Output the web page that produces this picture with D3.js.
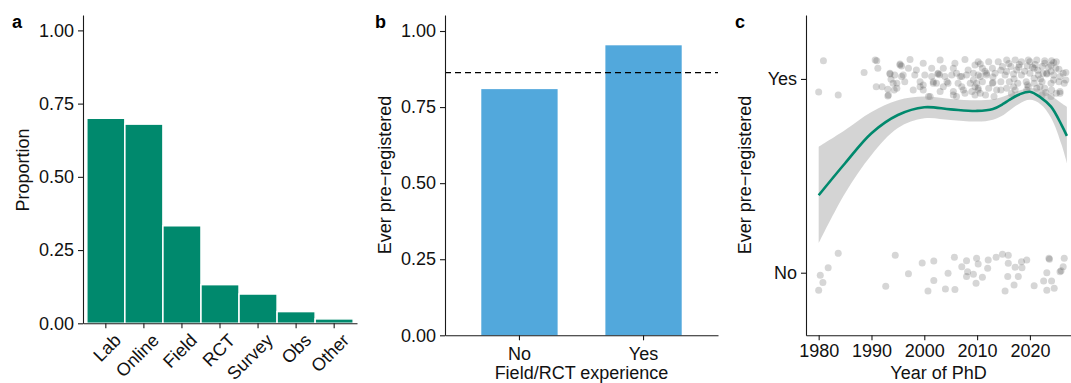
<!DOCTYPE html>
<html><head><meta charset="utf-8">
<script src="https://cdn.jsdelivr.net/npm/d3@7"></script>
<style>
body{margin:0;background:#fff}
text{font-family:"Liberation Sans",Arial,Helvetica,sans-serif}
</style>
</head><body>
<svg id="chart" width="1071" height="383"></svg>
<script>
// ---------- data ----------
const methodCats = ["Lab","Online","Field","RCT","Survey","Obs","Other"];
const methodProps = [0.70,0.68,0.333,0.132,0.10,0.04,0.015];
const expCats = ["No","Yes"];
const expProps = [0.809,0.953];
const overallRate = 0.863;
const propTicks = [0,0.25,0.5,0.75,1];
const yearTicks = [1980,1990,2000,2010,2020];
const ynTicks = [0,1];
const ynLabels = ["No","Yes"];

const smoothYears = [1980,1985,1990,1995,2000,2005,2010,2013,2015,2016,2018,2020,2022,2024,2026,2027];
const smoothFit   = [0.40,0.565,0.72,0.814,0.854,0.843,0.835,0.845,0.872,0.89,0.92,0.934,0.905,0.857,0.762,0.706];
const smoothLower = [0.152,0.41,0.608,0.747,0.797,0.788,0.78,0.79,0.814,0.835,0.872,0.892,0.87,0.80,0.66,0.565];
const smoothUpper = [0.65,0.737,0.83,0.89,0.909,0.897,0.89,0.895,0.909,0.92,0.94,0.952,0.945,0.915,0.875,0.857];

// [year, vertical jitter] for respondents who pre-registered (Yes)
const yesPoints = [
[1980.9,0.094],[1980.0,-0.067],[1983.7,-0.083],[1988.6,0.033],[1990.7,0.098],[1991.2,0.055],[1993.5,0.026],[1993.7,-0.002],
[1990.9,-0.04],[1992.0,-0.04],[1993.1,-0.053],[1993.1,-0.088],[1994.1,-0.022],[1994.3,-0.057],
[1997.3,0.10],[2003.0,0.098],[2007.7,0.10],[2010.2,0.089],[1999.8,0.081],[2005.8,0.081],[1995.4,0.077],[1995.7,0.067],
[1997.0,0.055],[1998.5,0.046],[2001.4,0.055],[2003.6,0.055],[2005.5,0.055],[2008.3,0.046],[2009.6,0.072],[1993.5,0.03],
[1994.4,0.02],[1996.0,0.02],[1998.2,0.02],[2000.1,0.02],[2001.4,0.012],[2002.6,0.026],[2002.9,0.022],[2003.9,0.012],
[2005.2,0.02],[2006.1,0.03],[2007.1,0.012],[2008.0,0.02],[2009.3,0.03],[2010.6,0.012],[1994.8,-0.022],[1996.3,-0.014],
[1999.2,-0.014],[1999.8,-0.031],[2001.7,-0.014],[2002.3,-0.022],[2004.5,-0.022],[2006.4,-0.022],[2008.7,-0.022],[2009.9,-0.022],
[2003.6,-0.04],[2007.1,-0.04],[2009.6,-0.04],[1999.8,-0.057],[2003.0,-0.065],[2005.5,-0.065],[2007.7,-0.074],[2009.0,-0.065],
[2010.2,-0.048],[2001.1,-0.091],[2006.1,-0.091],[2009.6,-0.083],
[2010.6,0.077],[2012.2,0.089],[2014.0,0.089],[2015.6,0.098],[2017.2,0.098],[2018.4,0.089],[2019.7,0.098],[2021.3,0.098],
[2022.8,0.094],[2024.1,0.094],[2025.0,0.089],[2011.0,0.055],[2012.9,0.055],[2014.8,0.064],[2016.4,0.064],[2017.9,0.06],
[2019.5,0.067],[2020.8,0.055],[2022.3,0.064],[2024.0,0.072],[2024.9,0.055],[2026.8,0.033],[2010.2,0.02],[2011.8,0.02],
[2013.4,0.03],[2015.3,0.02],[2016.9,0.026],[2018.4,0.02],[2020.0,0.03],[2021.6,0.02],[2023.2,0.026],[2024.5,0.02],
[2025.7,0.012],[2011.0,-0.014],[2012.9,-0.022],[2013.0,-0.018],[2014.5,-0.014],[2016.1,-0.014],[2017.7,-0.022],[2019.3,-0.014],
[2020.8,-0.022],[2022.3,-0.014],[2024.0,-0.022],[2025.5,-0.014],[2026.5,-0.022],[2010.2,-0.057],[2012.2,-0.048],[2013.7,-0.057],
[2015.6,-0.048],[2017.2,-0.057],[2019.7,-0.04],[2021.3,-0.048],[2022.8,-0.048],[2024.1,-0.057],[2025.7,-0.065],[2011.6,-0.083],
[2013.2,-0.091],[2022.3,-0.083],[2024.0,-0.091],[2025.0,-0.074],
[1991.0,0.094],[1995.4,0.072],[1995.7,0.012],[2002.6,0.03],[2010.6,-0.074],[2015.6,0.038],[2017.5,0.046],[2020.0,0.089],
[2022.8,0.081],[2023.2,0.03],[2020.8,0.004],[2024.5,-0.005],[2021.9,-0.04],[2014.5,-0.057],[2007.4,-0.057],[2005.5,-0.083],
[2025.7,-0.074],[2026.3,0.03],[2026.8,-0.005],[2019.4,-0.057],[2016.9,-0.04],[2011.8,0.03],[2009.3,-0.005],[2006.8,0.012],
[2004.3,-0.014],[2001.7,-0.022],[1999.2,-0.04],[1997.9,-0.057],[1994.8,-0.048],[1993.2,-0.083],[2000.8,-0.09],
[2016.0,0.08],[2018.0,0.075],[2021.0,0.075],[2023.5,0.06],[2024.5,0.085],[2019.0,0.04],[2021.5,0.045],[2024.0,0.04],
[2022.0,0.0],[2017.0,0.0],[2013.0,0.01],[2019.5,-0.03],[2023.0,-0.07],[2016.5,-0.075],[2011.5,0.04],[2014.5,0.045],
[2025.5,0.05],[2020.5,0.06],[2022.5,0.03]
];
// [year, vertical jitter] for respondents who never pre-registered (No)
const noPoints = [
[1983.7,0.10],[1981.8,0.026],[1980.3,-0.013],[1980.8,-0.05],[1980.0,-0.09],[1994.5,0.09],[1999.6,0.05],[2001.8,0.06],
[1997.0,-0.005],[1992.7,-0.07],[2001.8,-0.04],[2000.7,-0.095],[2004.0,-0.084],[2005.8,-0.086],[2005.7,0.08],[2004.5,-0.003],
[2008.0,0.062],[2007.1,0.031],[2009.9,0.074],[2010.2,0.045],[2008.2,0.005],[2008.0,-0.02],[2009.3,-0.008],[2009.8,-0.055],
[2011.0,-0.024],[2012.1,0.066],[2012.0,0.023],[2013.6,0.08],[2014.8,0.095],[2015.9,0.09],[2015.9,0.049],[2017.2,0.028],
[2018.4,0.057],[2019.4,0.066],[2018.5,0.026],[2015.8,-0.02],[2017.8,-0.02],[2017.0,-0.063],[2015.3,-0.095],[2020.8,-0.067],
[2023.6,0.074],[2023.7,0.07],[2023.2,0.0],[2022.6,-0.043],[2024.1,-0.043],[2023.2,-0.09],[2024.6,-0.08],[2025.7,0.005],
[2025.9,0.01],[2026.3,0.031],[2026.5,0.074]
];

// ---------- drawing ----------
const svg = d3.select("#chart");
const FS = 18;
const txtCol = "#111";
const axCol = "#1a1a1a";

function styleAxis(g){
  g.selectAll(".domain").attr("stroke",axCol).attr("stroke-width",1.1);
  g.selectAll(".tick line").attr("stroke",axCol).attr("stroke-width",1.1);
  g.selectAll(".tick text").attr("fill",txtCol).style("font-size",FS+"px")
    .style("font-family","'Liberation Sans',Arial,sans-serif");
}
function panelLabel(x,t){
  svg.append("text").attr("x",x).attr("y",28).text(t)
    .style("font-size","18px").style("font-weight","bold").attr("fill","#000");
}
function yTitle(x,cy,t){
  svg.append("text").attr("transform",`translate(${x},${cy}) rotate(-90)`)
    .attr("text-anchor","middle").style("font-size",FS+"px").attr("fill",txtCol).text(t);
}

// ----- Panel a -----
{
  const L=83,R=357,T=15,B=323.3;
  const x = d3.scaleBand().domain(methodCats).range([L,R]).paddingInner(0).paddingOuter(0.1);
  const y = d3.scaleLinear().domain([0,1.0525]).range([B,T]);
  svg.append("g").selectAll("rect").data(methodCats).join("rect")
    .attr("x",d=>x(d)).attr("width",x.bandwidth())
    .attr("y",(d,i)=>y(methodProps[i])).attr("height",(d,i)=>y(0)-y(methodProps[i]))
    .attr("fill","#00896D").attr("stroke","#fff").attr("stroke-width",1.5);
  const gy = svg.append("g").attr("transform",`translate(${L},0)`)
    .call(d3.axisLeft(y).tickValues(propTicks).tickFormat(d3.format(".2f")).tickSize(5).tickSizeOuter(0).tickPadding(4));
  styleAxis(gy);
  const gx = svg.append("g").attr("transform",`translate(0,${B})`)
    .call(d3.axisBottom(x).tickSize(5).tickSizeOuter(0));
  styleAxis(gx);
  gx.selectAll(".tick text").attr("text-anchor","end").attr("dy","0.72em")
    .attr("transform","translate(7,9) rotate(-45)").attr("y",0).attr("x",0);
  yTitle(29,170,"Proportion");
  panelLabel(12,"a");
}

// ----- Panel b -----
{
  const L=445,R=718,T=15,B=335.3;
  const x = d3.scaleBand().domain(expCats).range([L,R]).paddingInner(0).paddingOuter(0.1);
  const y = d3.scaleLinear().domain([0,1.0526]).range([B,T]);
  const bw = x.bandwidth()*0.615;
  svg.append("g").selectAll("rect").data(expCats).join("rect")
    .attr("x",d=>x(d)+x.bandwidth()/2-bw/2).attr("width",bw)
    .attr("y",(d,i)=>y(expProps[i])).attr("height",(d,i)=>y(0)-y(expProps[i]))
    .attr("fill","#52A8DC");
  svg.append("line").attr("x1",L).attr("x2",R).attr("y1",y(overallRate)).attr("y2",y(overallRate))
    .attr("stroke","#000").attr("stroke-width",1.3).attr("stroke-dasharray","6,4");
  const gy = svg.append("g").attr("transform",`translate(${L},0)`)
    .call(d3.axisLeft(y).tickValues(propTicks).tickFormat(d3.format(".2f")).tickSize(5).tickSizeOuter(0).tickPadding(4));
  styleAxis(gy);
  const gx = svg.append("g").attr("transform",`translate(0,${B})`)
    .call(d3.axisBottom(x).tickSize(5).tickSizeOuter(0).tickPadding(7));
  styleAxis(gx);
  svg.append("text").attr("x",(L+R)/2).attr("y",379).attr("text-anchor","middle")
    .style("font-size",FS+"px").attr("fill",txtCol).text("Field/RCT experience");
  yTitle(391,175,"Ever pre\u2212registered");
  panelLabel(375,"b");
}

// ----- Panel c -----
{
  const L=806,R=1071,T=15,B=335.3;
  const x = d3.scaleLinear().domain([1977.6,2027.78]).range([L,R]);
  const y = d3.scaleLinear().domain([-0.323,1.330]).range([B,T]);
  const pts = yesPoints.map(p=>({yr:p[0],v:1+p[1]})).concat(noPoints.map(p=>({yr:p[0],v:0+p[1]})));
  svg.append("g").selectAll("circle").data(pts).join("circle")
    .attr("cx",d=>x(d.yr)).attr("cy",d=>y(d.v)).attr("r",3.5)
    .attr("fill","#333").attr("fill-opacity",0.2);
  const sm = smoothYears.map((yr,i)=>({yr,f:smoothFit[i],lo:smoothLower[i],hi:smoothUpper[i]}));
  svg.append("path").datum(sm)
    .attr("d",d3.area().x(d=>x(d.yr)).y0(d=>y(d.lo)).y1(d=>y(d.hi)).curve(d3.curveCatmullRom.alpha(0.5)))
    .attr("fill","#999").attr("fill-opacity",0.42);
  svg.append("path").datum(sm)
    .attr("d",d3.line().x(d=>x(d.yr)).y(d=>y(d.f)).curve(d3.curveCatmullRom.alpha(0.5)))
    .attr("fill","none").attr("stroke","#00896D").attr("stroke-width",2.6);
  const gy = svg.append("g").attr("transform",`translate(${L},0)`)
    .call(d3.axisLeft(y).tickValues(ynTicks).tickFormat((d,i)=>ynLabels[i]).tickSize(5).tickSizeOuter(0).tickPadding(4));
  styleAxis(gy);
  const gx = svg.append("g").attr("transform",`translate(0,${B})`)
    .call(d3.axisBottom(x).tickValues(yearTicks).tickFormat(d3.format("d")).tickSize(5).tickSizeOuter(0).tickPadding(4));
  styleAxis(gx);
  svg.append("text").attr("x",938.5).attr("y",379).attr("text-anchor","middle")
    .style("font-size",FS+"px").attr("fill",txtCol).text("Year of PhD");
  yTitle(751,175,"Ever pre\u2212registered");
  panelLabel(735,"c");
}
</script>
</body></html>
